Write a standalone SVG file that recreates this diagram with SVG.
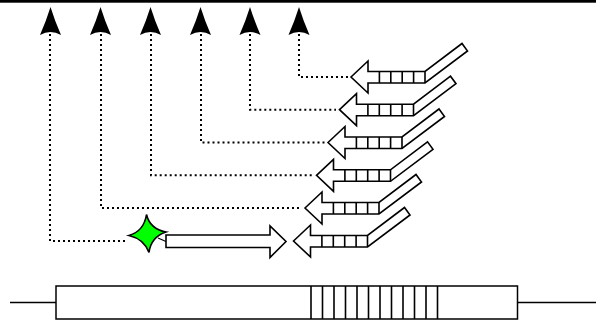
<svg xmlns="http://www.w3.org/2000/svg" xmlns:xlink="http://www.w3.org/1999/xlink" width="596" height="321" viewBox="0 0 596 321">
<style>
.dot{fill:none;stroke:#000;stroke-width:2;stroke-dasharray:2 3}
.blk{fill:#fff;stroke:#000;stroke-width:1.6;stroke-linejoin:miter}
.seg{stroke:#000;stroke-width:1.6}
.head{fill:#000}
</style>
<defs>
<g id="larrow">
<path class="blk" d="M0,0 L17,-16 L17,-5.5 L74,-5.5 L111,-33.5 L116.5,-26 L74,6 L17,6 L17,16 Z"/>
<path class="seg" d="M28.4,-5.5V6M39.8,-5.5V6M51.2,-5.5V6M62.6,-5.5V6M74,-5.5V6"/>
</g>
<path id="uphead" class="head" d="M0,0 Q-4,13 -10.5,28 Q0,22 10.5,28 Q4,13 0,0 Z"/>
</defs>
<rect x="0" y="0" width="596" height="2.7" fill="#000"/>
<g id="connectors">
<path class="dot" d="M299,34V77H348"/>
<path class="dot" d="M250,34V109.7H336"/>
<path class="dot" d="M201,34V142.5H325"/>
<path class="dot" d="M151,34V175.3H313"/>
<path class="dot" d="M101,34V208H302"/>
<path class="dot" d="M50,34V241H128"/>
<use xlink:href="#uphead" x="50.5" y="7"/>
<use xlink:href="#uphead" x="100.5" y="7"/>
<use xlink:href="#uphead" x="150.5" y="7"/>
<use xlink:href="#uphead" x="200.5" y="7"/>
<use xlink:href="#uphead" x="250" y="7"/>
<use xlink:href="#uphead" x="299" y="7"/>
<line x1="158" y1="238" x2="166" y2="241.5" stroke="#000" stroke-width="1.2"/>
</g>
<g id="arrow1"><use xlink:href="#larrow" x="351" y="77"/></g>
<g id="arrow2"><use xlink:href="#larrow" x="339.5" y="109.7"/></g>
<g id="arrow3"><use xlink:href="#larrow" x="328" y="142.5"/></g>
<g id="arrow4"><use xlink:href="#larrow" x="316.5" y="175.3"/></g>
<g id="arrow5"><use xlink:href="#larrow" x="305" y="208"/></g>
<g id="arrow6"><use xlink:href="#larrow" x="293.5" y="241"/></g>
<g id="star">
<path d="M146.5,214.5 Q150,229 166,232 Q151,237 149,252.5 Q144,239 129,235.5 Q144,231 146.5,214.5 Z" fill="#00ff00" stroke="#000" stroke-width="1.6"/>
</g>
<g id="rarrow">
<path class="blk" d="M166,235 H270 V226 L286,241.5 L270,257.5 V247.5 H166 Z"/>
</g>
<g id="gene">
<line x1="10" y1="302.5" x2="56" y2="302.5" stroke="#000" stroke-width="1.5"/>
<line x1="517.5" y1="302.5" x2="596" y2="302.5" stroke="#000" stroke-width="1.5"/>
<rect x="56" y="286" width="461.5" height="33" fill="#fff" stroke="#000" stroke-width="1.5"/>
<path class="seg" d="M311,286V319M322.5,286V319M334,286V319M345.5,286V319M357,286V319M368.5,286V319M380,286V319M391.5,286V319M403,286V319M414.5,286V319M426,286V319M437.5,286V319"/>
</g>
</svg>
